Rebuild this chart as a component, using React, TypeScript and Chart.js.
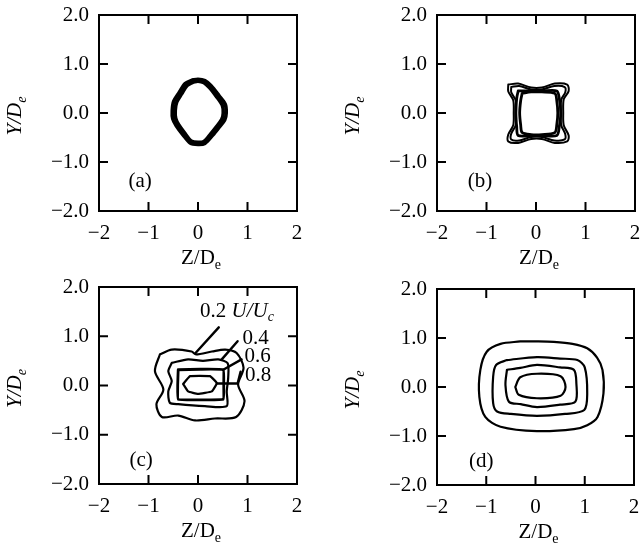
import React, { useEffect, useRef } from "react";
import { Chart, registerables } from "chart.js";

Chart.register(...registerables);

const FONT = "'Liberation Serif', 'Times New Roman', serif";

// ---- axis ticks ----
const xTickValues = [-2, -1, 0, 1, 2];
const xTickLabels = ["−2", "−1", "0", "1", "2"];
const yTickValues = [2, 1, 0, -1, -2];
const yTickLabels = ["2.0", "1.0", "0.0", "−1.0", "−2.0"];
const innerTickValues = [-1, 0, 1];
const panelLetters = ["(a)", "(b)", "(c)", "(d)"];
const levelLabels = ["0.2", "0.4", "0.6", "0.8"];

// ---- panel (a): contours nearly coincident (thick ring) ----
const aOuter = [
  [-0.12, 0.67], [0.0, 0.69], [0.14, 0.66], [0.26, 0.56], [0.42, 0.36], [0.55, 0.18],
  [0.57, 0.0], [0.54, -0.14], [0.42, -0.3], [0.3, -0.45], [0.14, -0.62], [0.0, -0.64],
  [-0.16, -0.61], [-0.3, -0.45], [-0.44, -0.26], [-0.51, -0.12], [-0.52, 0.05],
  [-0.49, 0.24], [-0.38, 0.42], [-0.26, 0.6], [-0.12, 0.67],
];
const aInner = [
  [-0.1, 0.63], [0.0, 0.65], [0.12, 0.62], [0.23, 0.52], [0.37, 0.34], [0.49, 0.16],
  [0.51, 0.0], [0.48, -0.13], [0.37, -0.28], [0.26, -0.42], [0.12, -0.58], [0.0, -0.6],
  [-0.14, -0.57], [-0.26, -0.42], [-0.39, -0.24], [-0.45, -0.11], [-0.46, 0.05],
  [-0.43, 0.22], [-0.33, 0.39], [-0.22, 0.56], [-0.1, 0.63],
];

// ---- panel (b) ----
const b02 = [
  [-0.56, 0.58], [-0.36, 0.6], [-0.1, 0.52], [0.12, 0.52], [0.38, 0.6], [0.63, 0.58],
  [0.66, 0.45], [0.56, 0.28], [0.55, 0.0], [0.56, -0.25], [0.66, -0.46], [0.63, -0.58],
  [0.38, -0.61], [0.12, -0.53], [-0.1, -0.53], [-0.36, -0.61], [-0.56, -0.58],
  [-0.56, -0.44], [-0.46, -0.25], [-0.45, 0.0], [-0.46, 0.26], [-0.56, 0.44], [-0.56, 0.58],
];
const b04 = [
  [-0.5, 0.53], [-0.34, 0.55], [-0.1, 0.48], [0.12, 0.48], [0.37, 0.55], [0.58, 0.53],
  [0.59, 0.42], [0.51, 0.27], [0.5, 0.0], [0.51, -0.25], [0.59, -0.43], [0.58, -0.54],
  [0.37, -0.56], [0.12, -0.49], [-0.1, -0.49], [-0.34, -0.56], [-0.5, -0.54],
  [-0.5, -0.42], [-0.41, -0.25], [-0.4, 0.0], [-0.41, 0.26], [-0.5, 0.42], [-0.5, 0.53],
];
const b06 = [
  [-0.36, 0.45], [-0.1, 0.45], [0.12, 0.45], [0.42, 0.45], [0.47, 0.3], [0.5, 0.0],
  [0.47, -0.28], [0.42, -0.46], [0.12, -0.46], [-0.1, -0.46], [-0.36, -0.46],
  [-0.39, -0.28], [-0.41, 0.0], [-0.39, 0.3], [-0.36, 0.45],
];
const b08 = [
  [-0.28, 0.4], [-0.1, 0.43], [0.12, 0.43], [0.38, 0.4], [0.42, 0.25], [0.44, 0.0],
  [0.42, -0.24], [0.38, -0.4], [0.12, -0.44], [-0.1, -0.44], [-0.28, -0.4],
  [-0.31, -0.24], [-0.33, 0.0], [-0.31, 0.25], [-0.28, 0.4],
];

// ---- panel (c) ----
const c02 = [
  [-0.77, 0.63], [-0.53, 0.73], [-0.13, 0.69], [-0.04, 0.63], [0.28, 0.69], [0.55, 0.73],
  [0.78, 0.66], [0.92, 0.36], [0.81, 0.02], [0.94, -0.32], [0.77, -0.64], [0.34, -0.67],
  [-0.06, -0.71], [-0.4, -0.61], [-0.73, -0.64], [-0.84, -0.38], [-0.7, -0.08],
  [-0.87, 0.29], [-0.77, 0.63],
];
const c04 = [
  [-0.53, 0.46], [-0.2, 0.53], [0.1, 0.5], [0.41, 0.53], [0.6, 0.45], [0.61, 0.16],
  [0.58, -0.12], [0.58, -0.42], [0.14, -0.42], [-0.4, -0.38], [-0.57, -0.35],
  [-0.6, -0.12], [-0.53, 0.09], [-0.6, 0.29], [-0.53, 0.46],
];
const c06 = [
  [-0.4, 0.32], [0.05, 0.33], [0.51, 0.32], [0.52, 0.02], [0.51, -0.28], [0.05, -0.29],
  [-0.4, -0.28], [-0.41, 0.02], [-0.4, 0.32],
];
const c08 = [
  [-0.3, 0.03], [-0.16, 0.19], [0.24, 0.19], [0.38, 0.05], [0.28, -0.12], [0.0, -0.17],
  [-0.2, -0.12], [-0.3, 0.03],
];
const cLeader02 = [[0.42, 1.18], [-0.05, 0.66]];
const cLeader04 = [[0.8, 0.9], [0.48, 0.53]];
const cLeader06 = [[0.88, 0.53], [0.51, 0.32]];
const cLeader08 = [[0.86, 0.28], [0.8, 0.04], [0.38, 0.04]];
const cLabelPos = [[0.04, 1.4], [0.9, 0.85], [0.94, 0.47], [0.95, 0.1]];

// ---- panel (d) ----
const d02 = [
  [-0.31, 0.93], [0.03, 0.93], [0.37, 0.92], [0.75, 0.88], [1.05, 0.79], [1.25, 0.6],
  [1.36, 0.35], [1.38, -0.13], [1.26, -0.61], [1.05, -0.78], [0.78, -0.86], [0.03, -0.9],
  [-0.71, -0.81], [-1.02, -0.61], [-1.14, -0.2], [-1.12, 0.35], [-0.99, 0.72],
  [-0.71, 0.88], [-0.31, 0.93],
];
const d04 = [
  [-0.58, 0.55], [0.03, 0.61], [0.5, 0.58], [0.85, 0.55], [1.0, 0.4], [1.05, -0.13],
  [0.99, -0.47], [0.6, -0.55], [0.03, -0.59], [-0.5, -0.55], [-0.78, -0.5],
  [-0.86, -0.33], [-0.86, 0.21], [-0.8, 0.45], [-0.58, 0.55],
];
const d06 = [
  [-0.58, 0.35], [-0.31, 0.39], [0.03, 0.45], [0.5, 0.4], [0.78, 0.35], [0.83, 0.07],
  [0.81, -0.3], [0.5, -0.36], [0.03, -0.41], [-0.3, -0.35], [-0.54, -0.3],
  [-0.61, 0.04], [-0.58, 0.35],
];
const d08 = [
  [-0.41, 0.0], [-0.31, 0.2], [0.03, 0.27], [0.51, 0.22], [0.61, 0.0], [0.51, -0.18],
  [0.03, -0.23], [-0.34, -0.16], [-0.41, 0.0],
];

const letterPos = [[-1.17, -1.4], [-1.13, -1.4], [-1.15, -1.52], [-1.1, -1.51]];

type Seg = { t: string; italic?: boolean; sub?: boolean };
type Contour = { pts: number[][]; width: number; tension: number };
type Note = { segs: Seg[]; x: number; y: number };
type PanelCfg = {
  left: number; top: number; w: number; h: number;
  area: [number, number, number, number];
  contours: Contour[];
  letter: string;
  letterAt: number[];
  notes: Note[];
};

const TICK = 9;
const FS = 21;

function drawRich(ctx: CanvasRenderingContext2D, segs: Seg[], x: number, y: number, size: number, align: "left" | "center") {
  const fontOf = (s: Seg) => `${s.italic ? "italic " : ""}${s.sub ? Math.round(size * 0.68) : size}px ${FONT}`;
  const widths = segs.map((s) => { ctx.font = fontOf(s); return ctx.measureText(s.t).width; });
  const total = widths.reduce((p, q) => p + q, 0);
  let cx = align === "center" ? x - total / 2 : x;
  ctx.textAlign = "left";
  ctx.textBaseline = "alphabetic";
  segs.forEach((s, i) => {
    ctx.font = fontOf(s);
    ctx.fillText(s.t, cx, s.sub ? y + size * 0.22 : y);
    cx += widths[i];
  });
}

const xTitle: Seg[] = [{ t: "Z/D" }, { t: "e", sub: true }];
const yTitle: Seg[] = [{ t: "Y/D", italic: true }, { t: "e", italic: true, sub: true }];

function makePlugin(cfg: PanelCfg) {
  return {
    id: "decor",
    afterDraw(chart: any) {
      const { ctx, chartArea: a, scales } = chart;
      const xs = scales.x, ys = scales.y;
      ctx.save();
      ctx.strokeStyle = "#000";
      ctx.fillStyle = "#000";
      ctx.lineWidth = 2;
      ctx.strokeRect(a.left, a.top, a.right - a.left, a.bottom - a.top);
      ctx.beginPath();
      for (const v of innerTickValues) {
        const px = xs.getPixelForValue(v);
        ctx.moveTo(px, a.bottom); ctx.lineTo(px, a.bottom - TICK);
        ctx.moveTo(px, a.top); ctx.lineTo(px, a.top + TICK);
        const py = ys.getPixelForValue(v);
        ctx.moveTo(a.left, py); ctx.lineTo(a.left + TICK, py);
        ctx.moveTo(a.right, py); ctx.lineTo(a.right - TICK, py);
      }
      ctx.stroke();
      drawRich(ctx, xTitle, (a.left + a.right) / 2 + 3, a.bottom + 53, FS, "center");
      ctx.save();
      ctx.translate(a.left - 78, (a.top + a.bottom) / 2 + 3);
      ctx.rotate(-Math.PI / 2);
      drawRich(ctx, yTitle, 0, 0, FS, "center");
      ctx.restore();
      ctx.font = `${FS}px ${FONT}`;
      ctx.textAlign = "center";
      ctx.textBaseline = "middle";
      ctx.fillText(cfg.letter, xs.getPixelForValue(cfg.letterAt[0]), ys.getPixelForValue(cfg.letterAt[1]));
      for (const n of cfg.notes) {
        drawRich(ctx, n.segs, xs.getPixelForValue(n.x), ys.getPixelForValue(n.y), FS, "left");
      }
      ctx.restore();
    },
  };
}

function Panel({ cfg }: { cfg: PanelCfg }) {
  const ref = useRef<HTMLCanvasElement>(null);
  useEffect(() => {
    const c = ref.current!;
    const [L, T, R, B] = cfg.area;
    const tickFont = { family: FONT, size: FS };
    const chart = new Chart(c, {
      type: "scatter",
      data: {
        datasets: cfg.contours.map((k) => ({
          data: k.pts.map(([x, y]) => ({ x, y })),
          showLine: true,
          borderColor: "#000",
          backgroundColor: "#000",
          borderWidth: k.width,
          pointRadius: 0,
          tension: k.tension,
          fill: false,
          borderJoinStyle: "round",
          borderCapStyle: "round",
        })),
      },
      options: {
        responsive: false,
        animation: false,
        devicePixelRatio: 1,
        layout: { autoPadding: false, padding: { left: 0, top: T - cfg.top, right: cfg.left + cfg.w - R, bottom: 0 } },
        plugins: { legend: { display: false }, tooltip: { enabled: false } },
        scales: {
          x: {
            type: "linear",
            min: -2,
            max: 2,
            afterFit: (s: any) => {
              s.height = cfg.top + cfg.h - B;
              s.paddingLeft = 0; s.paddingRight = 0; s.paddingTop = 0; s.paddingBottom = 0;
            },
            afterBuildTicks: (s: any) => { s.ticks = xTickValues.map((v) => ({ value: v })); },
            ticks: {
              callback: (v: any) => { const i = xTickValues.indexOf(Number(v)); return i >= 0 ? xTickLabels[i] : ""; },
              font: tickFont, color: "#000", padding: 10, maxRotation: 0, autoSkip: false,
            },
            grid: { display: false, drawTicks: false },
            border: { display: false },
          },
          y: {
            type: "linear",
            min: -2,
            max: 2,
            afterFit: (s: any) => {
              s.width = L - cfg.left;
              s.paddingLeft = 0; s.paddingRight = 0; s.paddingTop = 0; s.paddingBottom = 0;
            },
            afterBuildTicks: (s: any) => { s.ticks = yTickValues.map((v) => ({ value: v })); },
            ticks: {
              callback: (v: any) => { const i = yTickValues.indexOf(Number(v)); return i >= 0 ? yTickLabels[i] : ""; },
              font: tickFont, color: "#000", padding: 10, autoSkip: false,
            },
            grid: { display: false, drawTicks: false },
            border: { display: false },
          },
        },
      },
      plugins: [makePlugin(cfg)],
    } as any);
    return () => chart.destroy();
  }, []);
  return (
    <canvas
      ref={ref}
      width={cfg.w}
      height={cfg.h}
      style={{ position: "absolute", left: cfg.left, top: cfg.top, width: cfg.w, height: cfg.h }}
    />
  );
}

const panels: PanelCfg[] = [
  {
    left: 0, top: 0, w: 320, h: 272, area: [99, 15, 297, 211],
    contours: [
      { pts: aOuter, width: 3.6, tension: 0.3 },
      { pts: aInner, width: 3.6, tension: 0.3 },
    ],
    letter: panelLetters[0], letterAt: letterPos[0], notes: [],
  },
  {
    left: 320, top: 0, w: 321, h: 272, area: [437, 15, 635, 211],
    contours: [
      { pts: b02, width: 2, tension: 0.3 },
      { pts: b04, width: 2, tension: 0.3 },
      { pts: b06, width: 2.8, tension: 0.3 },
      { pts: b08, width: 2.8, tension: 0.3 },
    ],
    letter: panelLetters[1], letterAt: letterPos[1], notes: [],
  },
  {
    left: 0, top: 272, w: 320, h: 277, area: [99, 287, 297, 484],
    contours: [
      { pts: c02, width: 2.2, tension: 0.3 },
      { pts: c04, width: 2.2, tension: 0.25 },
      { pts: c06, width: 2.8, tension: 0.08 },
      { pts: c08, width: 2.2, tension: 0.1 },
      { pts: cLeader02, width: 2.4, tension: 0 },
      { pts: cLeader04, width: 2.4, tension: 0 },
      { pts: cLeader06, width: 2.4, tension: 0 },
      { pts: cLeader08, width: 2.4, tension: 0 },
    ],
    letter: panelLetters[2], letterAt: letterPos[2],
    notes: [
      { segs: [{ t: levelLabels[0] + " " }, { t: "U/U", italic: true }, { t: "c", italic: true, sub: true }], x: cLabelPos[0][0], y: cLabelPos[0][1] },
      { segs: [{ t: levelLabels[1] }], x: cLabelPos[1][0], y: cLabelPos[1][1] },
      { segs: [{ t: levelLabels[2] }], x: cLabelPos[2][0], y: cLabelPos[2][1] },
      { segs: [{ t: levelLabels[3] }], x: cLabelPos[3][0], y: cLabelPos[3][1] },
    ],
  },
  {
    left: 320, top: 272, w: 321, h: 277, area: [437, 289, 634, 485],
    contours: [
      { pts: d02, width: 2.2, tension: 0.3 },
      { pts: d04, width: 2.2, tension: 0.3 },
      { pts: d06, width: 2.2, tension: 0.3 },
      { pts: d08, width: 2.2, tension: 0.3 },
    ],
    letter: panelLetters[3], letterAt: letterPos[3], notes: [],
  },
];

export default function App() {
  return (
    <div style={{ position: "absolute", left: 0, top: 0, width: 641, height: 549, background: "#fff" }}>
      {panels.map((p, i) => (
        <Panel key={i} cfg={p} />
      ))}
    </div>
  );
}
